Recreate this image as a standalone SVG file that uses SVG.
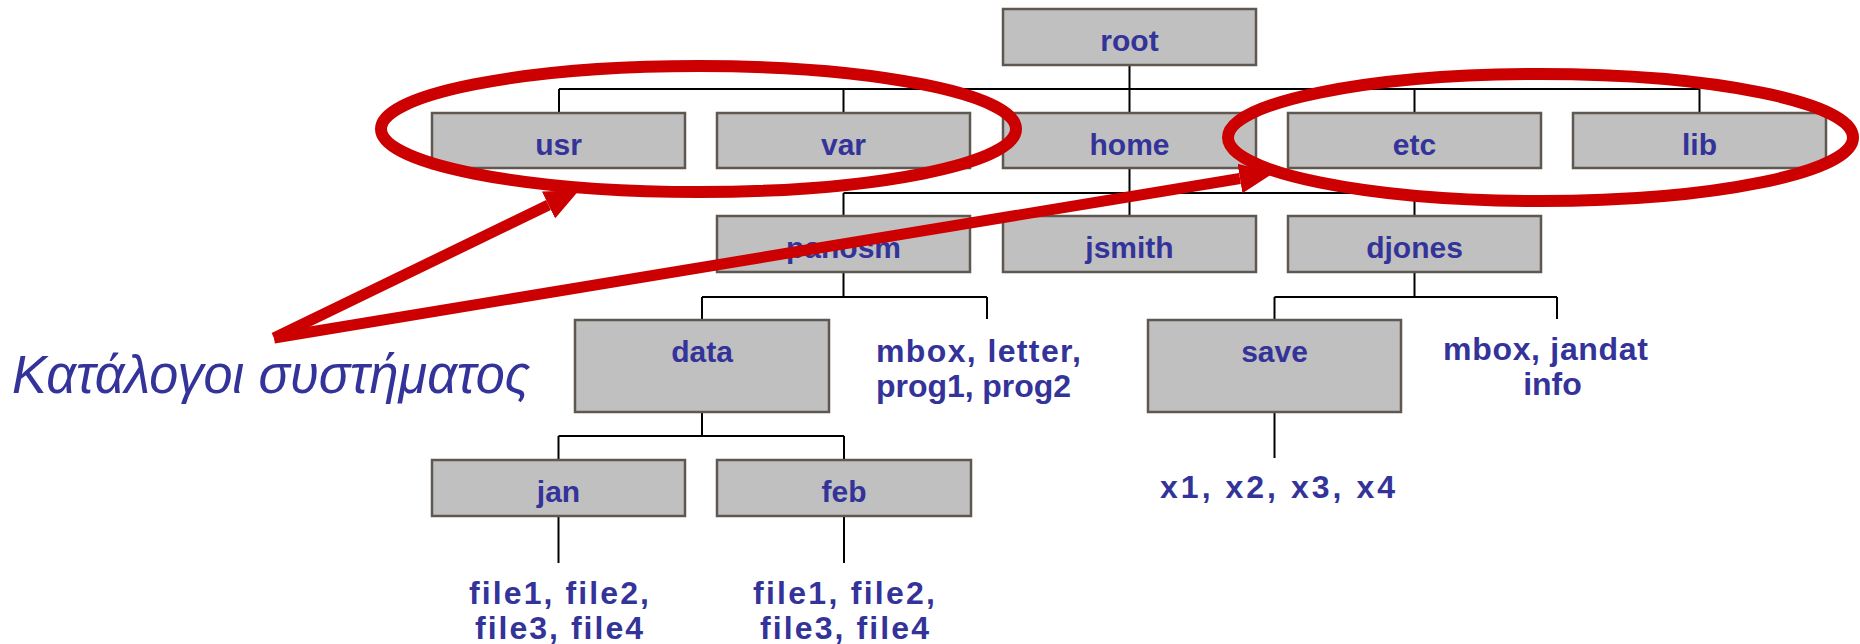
<svg xmlns="http://www.w3.org/2000/svg" width="1860" height="644" viewBox="0 0 1860 644">
  <style>
    .box { fill: #c0c0c0; stroke: #5e5850; stroke-width: 2.5; }
    .lbl { font-family: "Liberation Sans", Arial, sans-serif; font-weight: bold; font-size: 30px; fill: #333399; text-anchor: middle; }
    .files { font-family: "Liberation Sans", Arial, sans-serif; font-weight: bold; font-size: 32px; fill: #333399; text-anchor: middle; }
    .edge { fill: none; stroke: #000; stroke-width: 2; }
    .ring { fill: none; stroke: #cc0000; stroke-width: 12; }
    .pointer { fill: none; stroke: #cc0000; stroke-width: 11; stroke-linecap: butt; }
    .caption { font-family: "Liberation Sans", Arial, sans-serif; font-style: italic; font-size: 54px; fill: #333399; }
  </style>
  <defs>
    <marker id="head" markerUnits="userSpaceOnUse" markerWidth="40" markerHeight="40" refX="0" refY="15" orient="auto" viewBox="0 0 40 30">
      <path d="M0,0 L34,15 L0,30 Z" fill="#cc0000"/>
    </marker>
  </defs>

  <!-- tree connectors -->
  <g id="connectors" class="edge">
    <path d="M1129.5,65 V89 M559,89 H1699.5 M559,89 V113 M843.5,89 V113 M1129.5,89 V113 M1414.5,89 V113 M1699.5,89 V113"/>
    <path d="M1129.5,168 V193 M843.5,193 H1414.5 M843.5,193 V216 M1129.5,193 V216 M1414.5,193 V216"/>
    <path d="M843.5,272 V297 M702,297 H987 M702,297 V320 M987,297 V319"/>
    <path d="M1414.5,272 V297 M1274.5,297 H1557 M1274.5,297 V320 M1557,297 V319"/>
    <path d="M1274.5,412 V458"/>
    <path d="M702,412 V436 M558.5,436 H844 M558.5,436 V460 M844,436 V460"/>
    <path d="M558.5,516 V563 M844,516 V563"/>
  </g>

  <!-- directories -->
  <g id="root"><rect class="box" x="1003" y="9" width="253" height="56"/><text class="lbl" x="1129.5" y="51">root</text></g>
  <g id="usr"><rect class="box" x="432" y="113" width="253" height="55"/><text class="lbl" x="558.5" y="155">usr</text></g>
  <g id="var"><rect class="box" x="717" y="113" width="253" height="55"/><text class="lbl" x="843.5" y="155">var</text></g>
  <g id="home"><rect class="box" x="1003" y="113" width="253" height="55"/><text class="lbl" x="1129.5" y="155">home</text></g>
  <g id="etc"><rect class="box" x="1288" y="113" width="253" height="55"/><text class="lbl" x="1414.5" y="155">etc</text></g>
  <g id="lib"><rect class="box" x="1573" y="113" width="253" height="55"/><text class="lbl" x="1699.5" y="155">lib</text></g>

  <g id="panosm"><rect class="box" x="717" y="216" width="253" height="56"/><text class="lbl" x="843.5" y="258">panosm</text></g>
  <g id="jsmith"><rect class="box" x="1003" y="216" width="253" height="56"/><text class="lbl" x="1129.5" y="258">jsmith</text></g>
  <g id="djones"><rect class="box" x="1288" y="216" width="253" height="56"/><text class="lbl" x="1414.5" y="258">djones</text></g>

  <g id="data"><rect class="box" x="575" y="320" width="254" height="92"/><text class="lbl" x="702" y="362">data</text></g>
  <g id="panosm-files">
    <text class="files" x="978.5" y="362" textLength="205" lengthAdjust="spacing">mbox, letter,</text>
    <text class="files" x="973.5" y="397" textLength="195" lengthAdjust="spacing">prog1, prog2</text>
  </g>
  <g id="save"><rect class="box" x="1148" y="320" width="253" height="92"/><text class="lbl" x="1274.5" y="362">save</text></g>
  <g id="djones-files">
    <text class="files" x="1545.5" y="360" textLength="205" lengthAdjust="spacing">mbox, jandat</text>
    <text class="files" x="1552.5" y="395">info</text>
  </g>
  <g id="save-files"><text class="files" x="1277.5" y="498" textLength="235" lengthAdjust="spacing">x1, x2, x3, x4</text></g>

  <g id="jan"><rect class="box" x="432" y="460" width="253" height="56"/><text class="lbl" x="558.5" y="502">jan</text></g>
  <g id="feb"><rect class="box" x="717" y="460" width="254" height="56"/><text class="lbl" x="844" y="502">feb</text></g>
  <g id="jan-files">
    <text class="files" x="559" y="604" textLength="180" lengthAdjust="spacing">file1, file2,</text>
    <text class="files" x="559" y="639" textLength="168" lengthAdjust="spacing">file3, file4</text>
  </g>
  <g id="feb-files">
    <text class="files" x="844" y="604" textLength="182" lengthAdjust="spacing">file1, file2,</text>
    <text class="files" x="844.5" y="639" textLength="169" lengthAdjust="spacing">file3, file4</text>
  </g>

  <!-- system directories callout -->
  <g id="callout">
    <ellipse class="ring" cx="698.5" cy="129" rx="317.5" ry="63"/>
    <ellipse class="ring" cx="1540.5" cy="137.5" rx="312.5" ry="63.5"/>
    <line class="pointer" x1="274" y1="338" x2="548.5" y2="205" marker-end="url(#head)"/>
    <line class="pointer" x1="274" y1="338" x2="1240" y2="178.5" marker-end="url(#head)"/>
    <text class="caption" x="12" y="393" textLength="518" lengthAdjust="spacingAndGlyphs">Κατάλογοι συστήματος</text>
  </g>
</svg>
